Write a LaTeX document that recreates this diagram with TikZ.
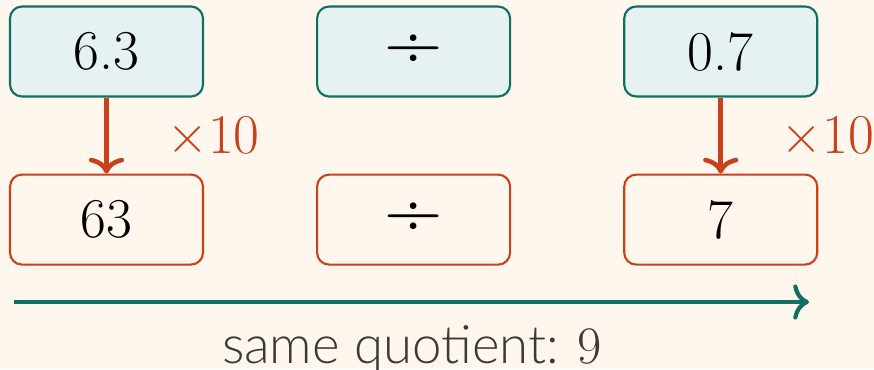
\documentclass[tikz,border=0pt]{standalone}
\usepackage{fontspec}
\setsansfont{Lato Light}
\usetikzlibrary{positioning,arrows.meta}
\definecolor{bgcream}{HTML}{FFF6EE}
\definecolor{tealline}{HTML}{0E6F63}
\definecolor{tealfill}{HTML}{E6F2F1}
\definecolor{rust}{HTML}{C8411B}
\definecolor{inkgray}{HTML}{3A3A3A}
\tikzset{
  numbox/.style={rounded corners=0.24cm, line width=1.2pt, minimum width=3.86cm,
    minimum height=1.8cm, font=\rmfamily\fontsize{32}{38}\selectfont},
  topbox/.style={numbox, draw=tealline, fill=tealfill},
  botbox/.style={numbox, draw=rust},
  divsign/.style={font=\rmfamily\fontsize{46}{50}\selectfont},
  scalearrow/.style={draw=rust, line width=2.6pt,
    -{Computer Modern Rightarrow[length=9pt,width=20pt]}},
  flowarrow/.style={draw=tealline, line width=2.4pt,
    -{Computer Modern Rightarrow[length=9pt,width=20pt]}},
  factor/.style={text=rust, font=\rmfamily\fontsize{32}{38}\selectfont}
}

\begin{document}
\begin{tikzpicture}
  \fill[bgcream] (0,0) rectangle (17.48,-7.38);
  \useasboundingbox (0,0) rectangle (17.48,-7.38);
  % Top row: original division
  \node[topbox] (dividend) at (2.13,-1.03) {6.3};
  \node[topbox, divsign, right=2.24cm of dividend] (topdiv) {÷};
  \node[topbox, right=2.24cm of topdiv] (divisor) {0.7};
  % Bottom row: both scaled by ten
  \node[botbox, below=1.52cm of dividend] (newdividend) {63};
  \node[botbox, divsign, below=1.52cm of topdiv] (botdiv) {÷};
  \node[botbox, below=1.52cm of divisor] (newdivisor) {7};
  % Scaling arrows
  \draw[scalearrow] (dividend) -- (newdividend)
    node[factor, midway, right=1.06cm] {×10};
  \draw[scalearrow] (divisor) -- (newdivisor)
    node[factor, midway, right=1.06cm] {×10};
  % Result line
  \coordinate (flowstart) at (0.28,-6.04);
  \coordinate (flowend) at (16.18,-6.04);
  \draw[flowarrow] (flowstart) -- (flowend);
  \node[anchor=base, text=inkgray, font=\sffamily\fontsize{30}{36}\selectfont]
    (result) at (8.24,-7.26) {same quotient: {\rmfamily 9}};
\end{tikzpicture}
\end{document}
